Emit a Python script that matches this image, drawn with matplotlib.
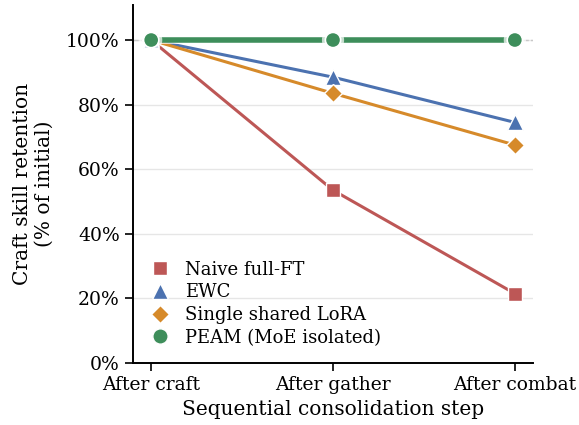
import numpy as np
import matplotlib
matplotlib.use("Agg")
import matplotlib.pyplot as plt
import matplotlib.patheffects as pe
from matplotlib.lines import Line2D
from matplotlib.ticker import PercentFormatter

plt.rcParams['font.family'] = 'DejaVu Serif'

# data
steps = ['After craft', 'After gather', 'After combat']
naive = [100.0, 53.5, 21.5]
ewc = [100.0, 88.5, 74.5]
lora = [100.0, 83.5, 67.5]
peam = [100.0, 100.0, 100.0]

labels = ['Naive full-FT', 'EWC', 'Single shared LoRA', 'PEAM (MoE isolated)']
colors = ['#bd5756', '#4c72b0', '#d68a2a', '#3e8e5b']
markers = ['s', '^', 'D', 'o']
sizes = [10, 11, 9, 11]

fig = plt.figure(figsize=(5.79, 4.25), dpi=100)
ax = fig.add_axes([0.2297, 0.1459, 0.6909, 0.842])

x = np.arange(len(steps))
ax.axhline(100, color='#c8c8c8', ls='--', lw=1, zorder=1)

series = [naive, ewc, lora, peam]
for i, (y, c, m, ms) in enumerate(zip(series, colors, markers, sizes)):
    if i == 3:
        ax.plot(x, y, color=c, lw=4, marker=m, ms=ms, mec='white', mew=1.2, zorder=6,
                path_effects=[pe.Stroke(linewidth=5, foreground='white', alpha=0.7), pe.Normal()])
    else:
        ax.plot(x, y, color=c, lw=2.2, marker=m, ms=ms, mec='white', mew=1.0, zorder=3 + i * 0.5)

ax.set_xlim(-0.1, 2.1)
ax.set_ylim(0, 110.8)
ax.set_xticks(x)
ax.set_xticklabels(steps, fontsize=13.5)
ax.set_yticks([0, 20, 40, 60, 80, 100])
ax.yaxis.set_major_formatter(PercentFormatter(decimals=0))
ax.tick_params(axis='y', labelsize=13.5)
ax.tick_params(length=6, width=1.2)
ax.grid(axis='y', color='#e6e6e6', lw=1)
ax.set_axisbelow(True)
for s in ['top', 'right']:
    ax.spines[s].set_visible(False)
for s in ['left', 'bottom']:
    ax.spines[s].set_linewidth(1.4)

ax.set_xlabel('Sequential consolidation step', fontsize=14.5, labelpad=4)
ax.set_ylabel('Craft skill retention\n(% of initial)', fontsize=14.5, labelpad=9)

handles = [Line2D([], [], ls='none', marker=m, color=c, ms=ms, mec='white')
           for m, c, ms in zip(markers, colors, sizes)]
ax.legend(handles, labels, loc='lower left', frameon=False, fontsize=13,
          handletextpad=0.4, labelspacing=0.26, borderaxespad=0.3,
          bbox_to_anchor=(-0.01, 0.01))

fig.savefig('out.png', dpi=100)
